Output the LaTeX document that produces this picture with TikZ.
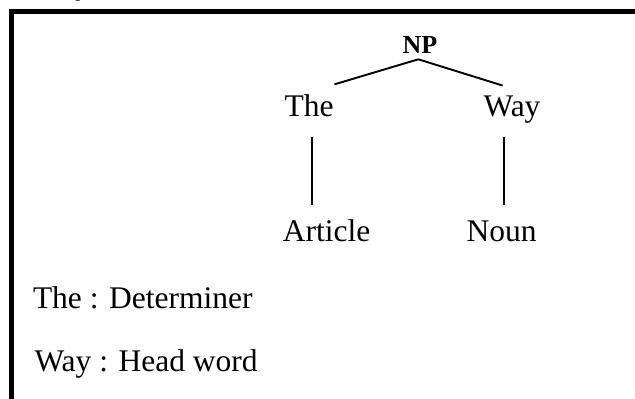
\documentclass[tikz,border=0pt]{standalone}
\usepackage{fontspec}
\setmainfont{Liberation Serif}
\begin{document}
\begin{tikzpicture}[x=1pt,y=-1pt,
  word/.style={inner sep=0pt, outer sep=0pt, anchor=base,
               font=\fontsize{31.5}{38}\selectfont},
  head/.style={inner sep=0pt, outer sep=0pt, anchor=base,
               font=\fontsize{26}{31}\selectfont\bfseries},
  note/.style={word, anchor=base west},
  branch/.style={line width=1.9pt, line cap=butt}]
\useasboundingbox (0,0) rectangle (635,399);

% descender of a line of text above the frame
\begin{scope}
  \clip (0,0) rectangle (635,399);
  \node[note] (above) at (75,-5.5) {y};
\end{scope}

% frame: left and top rules
\draw[line width=5pt, line join=miter] (11.5,420) -- (11.5,11.75) -- (660,11.75);

% tree
\node[head] (np) at (420,53) {NP};
\node[word] (the) at (309,116.7) {The};
\node[word] (way) at (512,116.7) {Way};
\node[word] (art) at (326.5,241.7) {Article};
\node[word] (noun) at (501.7,241.7) {Noun};

\coordinate (apex) at ([shift={(-1.7,6.3)}]np.south);
\draw[branch] (apex) -- ([shift={(1,-10.5)}]the.north east);
\draw[branch] (apex) -- ([shift={(-9.3,-10.5)}]way.north);
\draw[branch] ([shift={(2.7,20)}]the.base) -- ([shift={(-14.8,-36.7)}]art.base);
\draw[branch] ([shift={(-7.7,20)}]way.base) -- ([shift={(2.6,-36.7)}]noun.base);

% glosses
\node[note] (det) at (33,308) {The : Determiner};
\node[note] (hw) at (34.5,371) {Way : Head word};
\end{tikzpicture}
\end{document}
